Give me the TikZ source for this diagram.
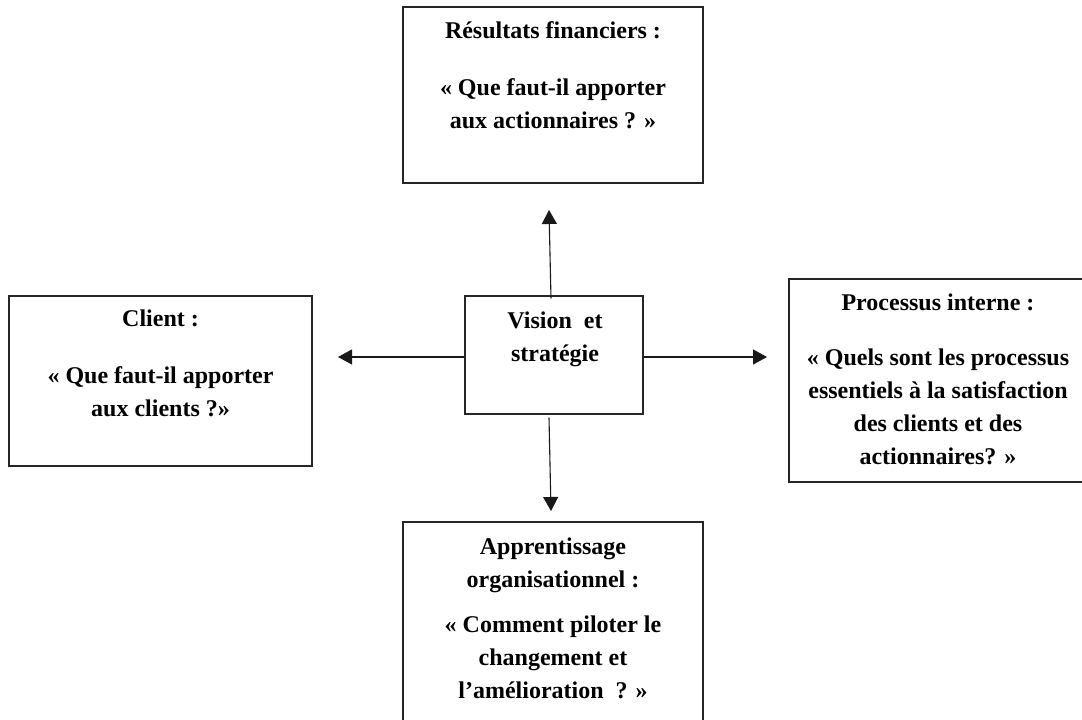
\documentclass[tikz,border=0pt]{standalone}
\usepackage{fontspec}
\setmainfont{Liberation Serif}
\usetikzlibrary{arrows.meta}
\tikzset{
  x=1pt, y=-1pt,
  frame/.style={draw=black!85, line width=1.1pt},
  label text/.style={anchor=north, align=center, inner sep=0pt,
    font=\bfseries\fontsize{24}{33}\selectfont, text=black},
  link/.style={draw=black!90, line width=1.1pt,
    -{Triangle[length=14pt,width=15pt]}}
}
\begin{document}
\begin{tikzpicture}
\clip (0,0) rectangle (1082,720);
\fill[white] (0,0) rectangle (1082,720);

% boxes
\node[frame, minimum width=300pt, minimum height=176pt, inner sep=0pt] (fin) at (553,95) {};
\node[frame, minimum width=303pt, minimum height=170pt, inner sep=0pt] (cli) at (160.5,381) {};
\node[frame, minimum width=320pt, minimum height=203pt, inner sep=0pt] (proc) at (949,380.5) {};
\node[frame, minimum width=300pt, minimum height=240pt, inner sep=0pt] (app) at (553,642) {};
\node[frame, minimum width=178pt, minimum height=118pt, inner sep=0pt] (vis) at (554,355) {};

% texts
\node[label text] (finT) at (553,14.9) {\strut Résultats financiers :\\[24pt]
  « Que faut-il apporter\\ aux actionnaires ? »};
\node[label text] (cliT) at (160.5,302.9) {\strut Client :\\[24pt]
  « Que faut-il apporter\\ aux clients ?»};
\node[label text] (procT) at (938,287.4) {\strut Processus interne :\\[22pt]
  « Quels sont les processus\\ essentiels à la satisfaction\\
  des clients et des\\ actionnaires? »};
\node[label text] (appT) at (553,531.4) {\strut Apprentissage\\ organisationnel :\\[12pt]
  « Comment piloter  le\\ changement et\\ l’amélioration~ ? »};
\node[label text] (visT) at (555,304.9)
  {\strut Vision\ \ et\\ stratégie};

% arrows out of the centre box
\coordinate (upTip) at (549,210);
\coordinate (downTip) at (551,511);
\coordinate (leftTip) at (338,357);
\coordinate (rightTip) at (767,357);
\draw[link] (vis.north -| 551,0) ++(0,3) -- (upTip);
\draw[link] (vis.south -| 549,0) ++(0,3) -- (downTip);
\draw[link] (vis.west |- 0,357) -- (leftTip);
\draw[link] (vis.east |- 0,357) -- (rightTip);
\end{tikzpicture}
\end{document}
